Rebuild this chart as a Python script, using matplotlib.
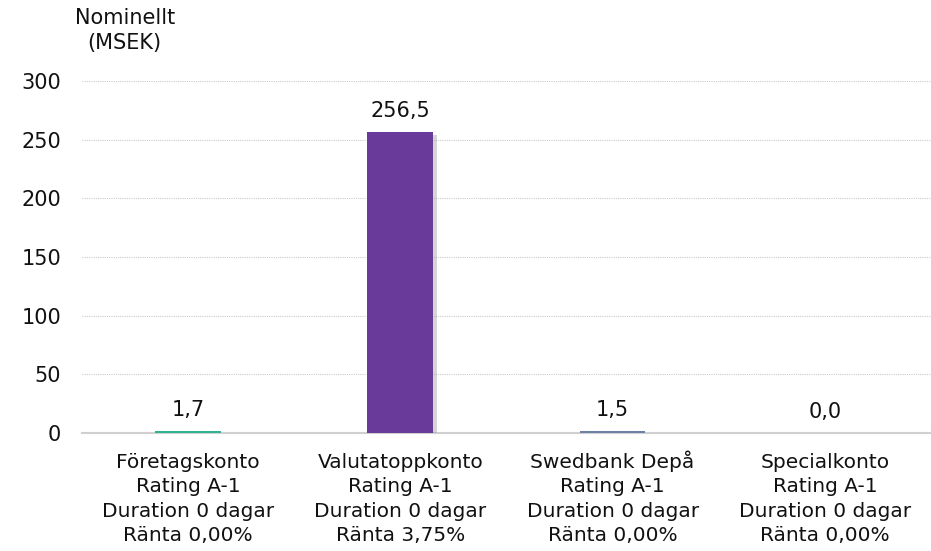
import matplotlib.pyplot as plt
import matplotlib.patheffects as pe

categories = ['Företagskonto', 'Valutatoppkonto', 'Swedbank Depå', 'Specialkonto']
ratings = ['A-1', 'A-1', 'A-1', 'A-1']
durations = [0, 0, 0, 0]
rates = ['0,00%', '3,75%', '0,00%', '0,00%']
values = [1.7, 256.5, 1.5, 0.0]
colors = ['#2db38f', '#6a3a9b', '#6f80a8', '#ffffff']

plt.rcParams['font.family'] = ['DejaVu Sans']

fig = plt.figure(figsize=(9.31, 5.51), dpi=100)
ax = fig.add_axes([0.088, 0.214, 0.912, 0.639])

x = list(range(len(values)))
bars = ax.bar(x, values, width=0.31, color=colors, zorder=5)
bars[1].set_path_effects([pe.SimplePatchShadow(offset=(3, -2), shadow_rgbFace='#888888', alpha=0.35), pe.Normal()])

for xi, v in zip(x, values):
    ax.annotate(f'{v:.1f}'.replace('.', ','), (xi, v), xytext=(0, 11), textcoords='offset points',
                ha='center', va='baseline', fontsize=15, color='#111111')

# category labels; va='baseline' pins the baseline of the last line
for xi, c, r, d, t in zip(x, categories, ratings, durations, rates):
    ax.annotate(f'{c}\nRating {r}\nDuration {d} dagar\nRänta {t}', (xi, 0),
                xycoords=('data', 'axes fraction'), xytext=(0, -77.8), textcoords='offset points',
                ha='center', va='baseline', fontsize=14.5, linespacing=1.36,
                color='#111111', annotation_clip=False)

ax.set_xticks(x)
ax.set_xticklabels([])
ax.set_xlim(-0.5, 3.5)
ax.set_ylim(0, 300)
ax.set_yticks(range(0, 301, 50))
ax.tick_params(axis='y', labelsize=15, length=0, pad=15, colors='#111111')
ax.tick_params(axis='x', length=0)

ax.grid(axis='y', linestyle=(0, (1, 1)), color='#cccccc', linewidth=0.8, zorder=0)
for s in ['top', 'right', 'left']:
    ax.spines[s].set_visible(False)
ax.spines['bottom'].set_color('#d0d0d0')
ax.spines['bottom'].set_linewidth(1.5)
ax.spines['bottom'].set_zorder(4)

fig.text(0.134, 0.944, 'Nominellt\n(MSEK)', ha='center', va='center', fontsize=15,
         linespacing=1.3, color='#111111')

fig.savefig('out.png', dpi=100)
